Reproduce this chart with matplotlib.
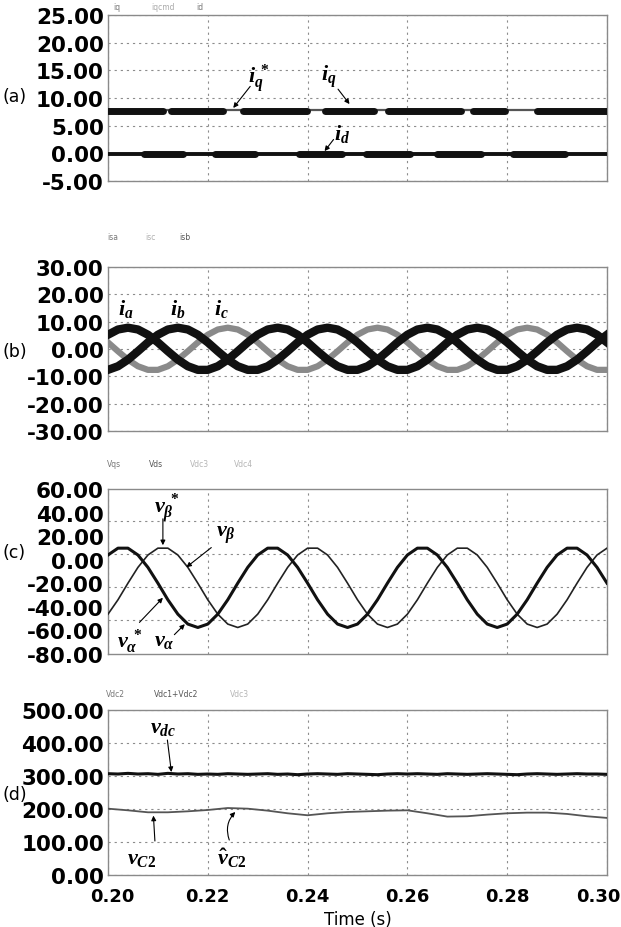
import numpy as np
import matplotlib
matplotlib.use('Agg')
import matplotlib.pyplot as plt
from matplotlib.transforms import ScaledTranslation

# ── Style ────────────────────────────────────────────────────────────────────
plt.rcParams.update({
    'font.family': 'DejaVu Sans',
    'mathtext.fontset': 'custom',
    'mathtext.it': 'Liberation Serif:italic:bold',
    'mathtext.rm': 'Liberation Serif:bold',
    'mathtext.bf': 'Liberation Serif:bold',
    'figure.facecolor': 'white',
})

W, H = 621, 928

# ── Data ─────────────────────────────────────────────────────────────────────
t = [0.200, 0.202, 0.204, 0.206, 0.208, 0.210, 0.212, 0.214, 0.216, 0.218,
     0.220, 0.222, 0.224, 0.226, 0.228, 0.230, 0.232, 0.234, 0.236, 0.238,
     0.240, 0.242, 0.244, 0.246, 0.248, 0.250, 0.252, 0.254, 0.256, 0.258,
     0.260, 0.262, 0.264, 0.266, 0.268, 0.270, 0.272, 0.274, 0.276, 0.278,
     0.280, 0.282, 0.284, 0.286, 0.288, 0.290, 0.292, 0.294, 0.296, 0.298,
     0.300]

# (a) dq currents
iq_ref = [7.9, 7.9]
iq_ref_t = [0.200, 0.300]
iq_level = 7.6
iq_seg_start = [0.2000, 0.2127, 0.2270, 0.2434, 0.2561, 0.2732, 0.2859]
iq_seg_end   = [0.2111, 0.2231, 0.2398, 0.2533, 0.2708, 0.2796, 0.3000]
id_level = -0.1
id_seg_start = [0.2072, 0.2215, 0.2382, 0.2517, 0.2660, 0.2811]
id_seg_end   = [0.2151, 0.2294, 0.2469, 0.2605, 0.2748, 0.2915]

# (b) phase currents
ia = [5.22, 7.13, 7.80, 7.13, 5.22, 2.41, -0.82, -3.90, -6.31, -7.63, -7.63, -6.31, -3.90, -0.82, 2.41,
      5.22, 7.13, 7.80, 7.13, 5.22, 2.41, -0.82, -3.90, -6.31, -7.63, -7.63, -6.31, -3.90, -0.82, 2.41,
      5.22, 7.13, 7.80, 7.13, 5.22, 2.41, -0.82, -3.90, -6.31, -7.63, -7.63, -6.31, -3.90, -0.82, 2.41,
      5.22, 7.13, 7.80, 7.13, 5.22, 2.41]
ib = [-7.63, -6.31, -3.90, -0.82, 2.41, 5.22, 7.13, 7.80, 7.13, 5.22, 2.41, -0.82, -3.90, -6.31, -7.63,
      -7.63, -6.31, -3.90, -0.82, 2.41, 5.22, 7.13, 7.80, 7.13, 5.22, 2.41, -0.82, -3.90, -6.31, -7.63,
      -7.63, -6.31, -3.90, -0.82, 2.41, 5.22, 7.13, 7.80, 7.13, 5.22, 2.41, -0.82, -3.90, -6.31, -7.63,
      -7.63, -6.31, -3.90, -0.82, 2.41, 5.22]
ic = [2.41, -0.82, -3.90, -6.31, -7.63, -7.63, -6.31, -3.90, -0.82, 2.41, 5.22, 7.13, 7.80, 7.13, 5.22,
      2.41, -0.82, -3.90, -6.31, -7.63, -7.63, -6.31, -3.90, -0.82, 2.41, 5.22, 7.13, 7.80, 7.13, 5.22,
      2.41, -0.82, -3.90, -6.31, -7.63, -7.63, -6.31, -3.90, -0.82, 2.41, 5.22, 7.13, 7.80, 7.13, 5.22,
      2.41, -0.82, -3.90, -6.31, -7.63, -7.63]

# (c) alpha-beta voltages (in the printed axis units)
v_alpha = [4.0, 9.8, 9.8, 4.0, -6.5, -19.9, -34.0, -46.2, -54.6, -57.5, -54.6, -46.2, -34.0, -19.9, -6.5,
           4.0, 9.8, 9.8, 4.0, -6.5, -19.9, -34.0, -46.2, -54.6, -57.5, -54.6, -46.2, -34.0, -19.9, -6.5,
           4.0, 9.8, 9.8, 4.0, -6.5, -19.9, -34.0, -46.2, -54.6, -57.5, -54.6, -46.2, -34.0, -19.9, -6.5,
           4.0, 9.8, 9.8, 4.0, -6.5, -19.9]
v_beta = [-46.2, -34.0, -19.9, -6.5, 4.0, 9.8, 9.8, 4.0, -6.5, -19.9, -34.0, -46.2, -54.6, -57.5, -54.6,
          -46.2, -34.0, -19.9, -6.5, 4.0, 9.8, 9.8, 4.0, -6.5, -19.9, -34.0, -46.2, -54.6, -57.5, -54.6,
          -46.2, -34.0, -19.9, -6.5, 4.0, 9.8, 9.8, 4.0, -6.5, -19.9, -34.0, -46.2, -54.6, -57.5, -54.6,
          -46.2, -34.0, -19.9, -6.5, 4.0, 9.8]
c_grid = [33.0, 5.0, -23.5, -51.0]

# (d) dc-link voltages
vdc = [307, 306, 308, 306, 307, 305, 308, 306, 307, 305,
       306, 305, 307, 306, 305, 306, 307, 305, 306, 304,
       306, 307, 306, 305, 307, 306, 305, 304, 306, 307,
       306, 307, 306, 305, 307, 306, 305, 306, 307, 306,
       305, 304, 306, 307, 306, 305, 306, 307, 306, 306, 305]
td = [0.200, 0.204, 0.208, 0.212, 0.216, 0.220, 0.224, 0.228, 0.232, 0.236,
      0.240, 0.244, 0.248, 0.252, 0.256, 0.260, 0.264, 0.268, 0.272, 0.276,
      0.280, 0.284, 0.288, 0.292, 0.296, 0.300]
vc2 = [201, 196, 190, 190, 193, 197, 203, 201, 195, 187,
       181, 187, 191, 193, 195, 196, 187, 177, 178, 183,
       187, 189, 189, 185, 178, 173]

xticks = [0.20, 0.22, 0.24, 0.26, 0.28, 0.30]
yticks_a = [25, 20, 15, 10, 5, 0, -5]
yticks_b = [30, 20, 10, 0, -10, -20, -30]
yticks_c = [60, 40, 20, 0, -20, -40, -60, -80]
yticks_d = [500, 400, 300, 200, 100, 0]

# ── Layout (pixel boxes: top, bottom) ────────────────────────────────────────
LEFT, RIGHT = 108, 607
boxes = [(16, 182), (268, 432), (490, 655), (711, 876)]

fig = plt.figure(figsize=(W / 100, H / 100), dpi=100)

def px(x, y):
    return x / W, 1 - y / H

axs = []
for top, bot in boxes:
    ax = fig.add_axes([LEFT / W, 1 - bot / H, (RIGHT - LEFT) / W, (bot - top) / H])
    axs.append(ax)

GRID = dict(color='#8c8c8c', lw=0.8, ls=(0, (2, 3.5)))

def style(ax, yticks, ygrid=True):
    ax.set_xlim(0.2, 0.3)
    ax.set_ylim(min(yticks), max(yticks))
    ax.set_xticks(xticks)
    ax.set_yticks(yticks)
    ax.set_yticklabels([f'{v:.2f}' for v in yticks])
    ax.tick_params(length=0, pad=3, labelsize=15.5)
    for lab in ax.get_yticklabels():
        lab.set_fontweight('bold')
    ax.set_xticklabels([])
    for s in ax.spines.values():
        s.set_color('#8a8a8a')
        s.set_linewidth(1.0)
    ax.grid(True, axis='x', **GRID)
    if ygrid:
        ax.grid(True, axis='y', **GRID)
    ax.set_axisbelow(True)

ARW = dict(arrowstyle='-|>', color='k', lw=0.8, mutation_scale=7, shrinkA=0, shrinkB=0)

def arrow(ax, tail, tip, rad=0.0):
    p = dict(ARW)
    if rad:
        p['connectionstyle'] = f'arc3,rad={rad}'
    ax.annotate('', xy=tip, xytext=tail, arrowprops=p)

LBL = dict(fontsize=16, ha='center', va='center')

# ── (a) ──────────────────────────────────────────────────────────────────────
ax = axs[0]
style(ax, yticks_a)
ax.plot(iq_ref_t, iq_ref, color='#555555', lw=1.6, zorder=3)
for a, b in zip(iq_seg_start, iq_seg_end):
    ax.plot([a, b], [iq_level, iq_level], color='#111111', lw=5, solid_capstyle='round', zorder=4)
ax.plot([0.2, 0.3], [id_level, id_level], color='#111111', lw=2.8, zorder=3)
for a, b in zip(id_seg_start, id_seg_end):
    ax.plot([a, b], [id_level, id_level], color='#111111', lw=5, solid_capstyle='round', zorder=4)
ax.text(0.2302, 13.6, r'$i_q^{\,*}$', **LBL)
arrow(ax, (0.2285, 12.1), (0.2251, 8.2))
ax.text(0.2442, 14.1, r'$i_q$', **LBL)
arrow(ax, (0.2461, 11.6), (0.2484, 8.9))
ax.text(0.2469, 3.6, r'$i_d$', **LBL)
arrow(ax, (0.2452, 2.5), (0.2434, 0.4))

# ── (b) ──────────────────────────────────────────────────────────────────────
ax = axs[1]
style(ax, yticks_b)
ax.plot(t, ic, color='#8a8a8a', lw=4.5, zorder=3)
ax.plot(t, ia, color='#111111', lw=6, zorder=4)
ax.plot(t, ib, color='#111111', lw=6, zorder=4)
ax.text(0.2036, 15.0, r'$i_a$', **LBL)
ax.text(0.2139, 15.0, r'$i_b$', **LBL)
ax.text(0.2227, 15.0, r'$i_c$', **LBL)

# ── (c) ──────────────────────────────────────────────────────────────────────
ax = axs[2]
style(ax, yticks_c, ygrid=False)
for g in c_grid:
    ax.axhline(g, zorder=0, **GRID)
ax.plot(t, v_beta, color='#222222', lw=1.2, zorder=3)
ax.plot(t, v_alpha, color='#111111', lw=2.2, zorder=4)
ax.text(0.2118, 45, r'$v_\beta^{\;*}$', **LBL)
arrow(ax, (0.2110, 34.7), (0.2110, 12.3))
ax.text(0.2237, 21.3, r'$v_\beta$', **LBL)
arrow(ax, (0.2207, 10.3), (0.2157, -6.4))
ax.text(0.2043, -68.5, r'$v_\alpha^{\;*}$', **LBL)
arrow(ax, (0.2063, -53.2), (0.2110, -32.3))
ax.text(0.2112, -68.5, r'$v_\alpha$', **LBL)
arrow(ax, (0.2133, -63.6), (0.2154, -54.7))

# ── (d) ──────────────────────────────────────────────────────────────────────
ax = axs[3]
style(ax, yticks_d)
ax.plot(td, vc2, color='#555555', lw=1.3, zorder=3)
ax.plot(t, vdc, color='#111111', lw=2.2, zorder=4)
ax.text(0.2111, 448, r'$v_{dc}$', **LBL)
arrow(ax, (0.2119, 409), (0.2127, 312))
ax.text(0.2068, 52, r'$v_{C2}$', **LBL)
arrow(ax, (0.2094, 103), (0.2091, 180))
ax.text(0.2247, 52, r'$\hat{v}_{C2}$', **LBL)
arrow(ax, (0.2243, 106), (0.2255, 191), rad=-0.3)
ax.set_xticklabels([f'{v:.2f}' for v in xticks])
ax.tick_params(axis='x', pad=9, labelsize=13)
xlabs = ax.get_xticklabels()
for lab in xlabs:
    lab.set_fontweight('bold')
xlabs[0].set_transform(xlabs[0].get_transform() + ScaledTranslation(3 / 72, 0, fig.dpi_scale_trans))
xlabs[-1].set_transform(xlabs[-1].get_transform() + ScaledTranslation(-6 / 72, 0, fig.dpi_scale_trans))
ax.set_xlabel('Time (s)', fontsize=12, labelpad=3)

# ── Panel letters and trace legends ──────────────────────────────────────────
for lbl, y in zip(['(a)', '(b)', '(c)', '(d)'], [97, 352, 553, 795]):
    fig.text(*px(2, y), lbl, fontsize=12.5, ha='left', va='center')

legends = [
    (7,   [('iq', 117, '#777777'), ('iqcmd', 163, '#aaaaaa'), ('id', 200, '#777777')]),
    (238, [('isa', 113, '#777777'), ('isc', 150, '#b0b0b0'), ('isb', 185, '#555555')]),
    (465, [('Vqs', 114, '#777777'), ('Vds', 156, '#555555'), ('Vdc3', 200, '#b5b5b5'),
           ('Vdc4', 243, '#b5b5b5')]),
    (695, [('Vdc2', 115, '#777777'), ('Vdc1+Vdc2', 176, '#555555'), ('Vdc3', 239, '#b5b5b5')]),
]
for y, items in legends:
    for txt, x, col in items:
        fig.text(*px(x, y), txt, fontsize=5.5, color=col, ha='center', va='center')

fig.savefig('out.png', dpi=100)
